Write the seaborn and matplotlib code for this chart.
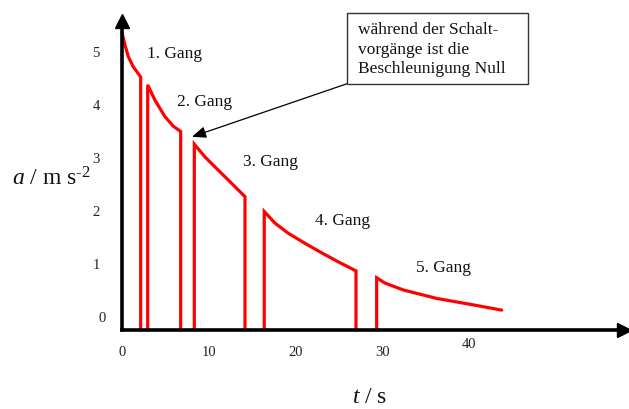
import matplotlib
matplotlib.use("Agg")
import matplotlib.pyplot as plt
import seaborn as sns
from matplotlib.patches import Rectangle
from matplotlib.transforms import ScaledTranslation

# Acceleration during each gear (time in s, acceleration in m/s^2)
gear_names = ["1. Gang", "2. Gang", "3. Gang", "4. Gang", "5. Gang"]

t_gang1 = [0.0, 0.35, 0.73, 1.30, 2.15]
a_gang1 = [5.36, 5.13, 4.91, 4.72, 4.53]

t_gang2 = [2.96, 3.80, 4.95, 5.91, 6.76]
a_gang2 = [4.38, 4.09, 3.78, 3.60, 3.50]

t_gang3 = [8.33, 9.56, 11.09, 12.64, 14.17]
a_gang3 = [3.26, 3.02, 2.77, 2.52, 2.27]

t_gang4 = [16.39, 17.63, 19.16, 21.08, 23.01, 24.92, 26.96]
a_gang4 = [1.99, 1.77, 1.58, 1.39, 1.21, 1.04, 0.87]

t_gang5 = [29.34, 30.30, 32.41, 36.26, 40.09, 43.74]
a_gang5 = [0.74, 0.64, 0.51, 0.35, 0.24, 0.13]

x_ticks = [0, 10, 20, 30, 40]
y_ticks = [0, 1, 2, 3, 4, 5]

# label anchor points (t, a) for the gear names
label_t = [2.9, 6.3, 13.9, 22.2, 33.9]
label_a = [4.89, 3.98, 2.85, 1.74, 0.84]

note_text = "während der Schalt-\nvorgänge ist die\nBeschleunigung Null"

sns.set_style("white")
plt.rcParams["font.family"] = ["Liberation Serif", "DejaVu Serif"]
plt.rcParams["mathtext.fontset"] = "custom"
plt.rcParams["mathtext.rm"] = "Liberation Serif"
plt.rcParams["mathtext.it"] = "Liberation Serif:italic"

W, H = 629, 409
fig = plt.figure(figsize=(W / 100, H / 100), dpi=100)
ax = fig.add_axes([122 / W, (H - 330) / H, (624 - 122) / W, (330 - 21) / H])

x_max = (624 - 122) / 8.68
y_min, y_max = -13 / 53, (317 - 21) / 53
ax.set_xlim(0, x_max)
ax.set_ylim(y_min, y_max)

red = "#ff0000"
gears = [(t_gang1, a_gang1), (t_gang2, a_gang2), (t_gang3, a_gang3),
         (t_gang4, a_gang4), (t_gang5, a_gang5)]
for i, (ts, acc) in enumerate(gears):
    xs, ys = list(ts), list(acc)
    # during a gear change the acceleration drops to zero
    if i > 0:
        xs, ys = [ts[0]] + xs, [y_min] + ys
    if i < len(gears) - 1:
        xs, ys = xs + [ts[-1]], ys + [y_min]
    sns.lineplot(x=xs, y=ys, sort=False, estimator=None, color=red,
                 lw=2.3, ax=ax)
for ln in ax.get_lines():
    ln.set_solid_joinstyle("miter")
    ln.set_clip_on(False)

for name, lt, la in zip(gear_names, label_t, label_a):
    ax.text(lt, la, name, fontsize=12.5, ha="left", va="baseline", color="#111")

# axes styling
for s in ["top", "right"]:
    ax.spines[s].set_visible(False)
for s in ["left", "bottom"]:
    ax.spines[s].set_linewidth(2.6)
    ax.spines[s].set_color("black")
    ax.spines[s].set_capstyle("projecting")
    ax.spines[s].set_zorder(5)

ax.plot(0, 1, "^", color="black", ms=10, transform=ax.transAxes, clip_on=False, zorder=6)
ax.plot(1, 0, ">", color="black", ms=10, transform=ax.transAxes, clip_on=False, zorder=6)

ax.set_xticks(x_ticks)
ax.set_yticks(y_ticks)
ax.set_xticklabels([str(v) for v in x_ticks])
ax.set_yticklabels([str(v) for v in y_ticks])
ax.tick_params(axis="both", direction="in", length=8.6, width=0.9, color="#444",
               labelsize=10.5, labelcolor="#222")
ax.tick_params(axis="x", pad=11.5)
ax.tick_params(axis="y", pad=16)
ax.xaxis.get_major_ticks()[0].tick1line.set_visible(False)
ax.yaxis.get_major_ticks()[0].tick1line.set_visible(False)
ax.set_xlabel("")
ax.set_ylabel("")
ax.grid(False)

# hand-set nudges of a few tick labels
lbl = ax.yaxis.get_major_ticks()[0].label1
lbl.set_transform(lbl.get_transform() + ScaledTranslation(6 / 100, 0, fig.dpi_scale_trans))
lbl = ax.xaxis.get_major_ticks()[4].label1
lbl.set_transform(lbl.get_transform() + ScaledTranslation(0, 8 / 100, fig.dpi_scale_trans))

# axis titles
fig.text(12 / W, (H - 186) / H, r"$a$ / m s$^{\text{-2}}$", fontsize=17,
         ha="left", va="baseline", color="#111")
fig.text(370 / W, (H - 403) / H, r"$t$ / s", fontsize=17,
         ha="center", va="baseline", color="#111")

# note box with arrow pointing at a gear change
fig.patches.append(Rectangle((347 / W, (H - 84) / H), 181 / W, 71 / H,
                             transform=fig.transFigure, fill=False,
                             lw=1.0, edgecolor="#333"))
fig.text(358 / W, (H - 22) / H, note_text, fontsize=12.5, ha="left", va="top",
         linespacing=1.3, color="#111")
ax.annotate("", xy=(8.06, 3.40), xytext=(25.9, 4.40), xycoords="data",
            arrowprops=dict(arrowstyle="-|>,head_length=0.85,head_width=0.35",
                            color="black", lw=0.9, shrinkA=0, shrinkB=0),
            annotation_clip=False)

fig.savefig("out.png", dpi=100)
